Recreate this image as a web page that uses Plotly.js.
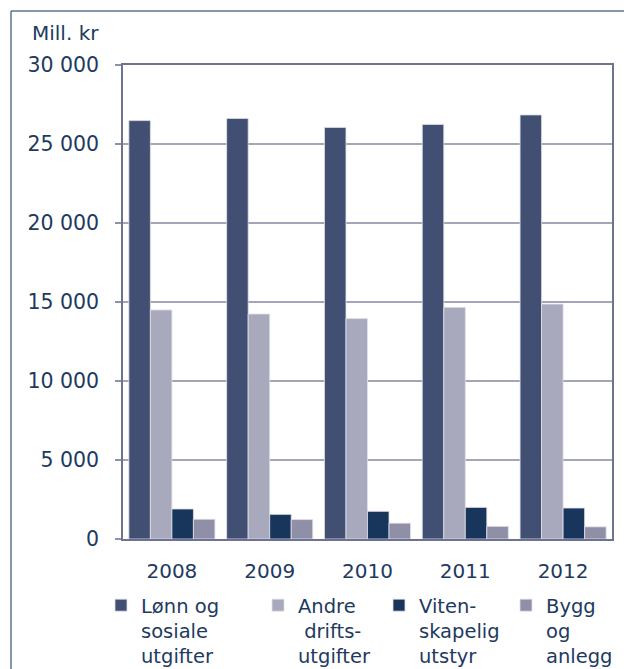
<!DOCTYPE html>
<html>
<head>
<meta charset="utf-8">
<script src="https://cdn.plot.ly/plotly-3.0.1.min.js"></script>
<style>
  html, body { margin: 0; padding: 0; background: #ffffff; }
  #chart { width: 624px; height: 669px; }
</style>
</head>
<body>
<div id="chart"></div>
<script>
const years = ['2008', '2009', '2010', '2011', '2012'];
const lonn = [26480, 26620, 26050, 26240, 26840];
const andre = [14500, 14240, 13950, 14660, 14870];
const viten = [1900, 1560, 1750, 2000, 1960];
const bygg = [1250, 1230, 1000, 800, 770];
const seriesNames = ['Lønn og<br>sosiale<br>utgifter', 'Andre<br> drifts-<br>utgifter', 'Viten-<br>skapelig<br>utstyr', 'Bygg<br>og<br>anlegg'];
const yTickVals = [0, 5000, 10000, 15000, 20000, 25000, 30000];
const yTickText = ['0', '5 000', '10 000', '15 000', '20 000', '25 000', '30 000'];

const colors = ['#414f72', '#a8a9bc', '#18365c', '#8f90a8'];
const textColor = '#1e3a5f';
const font = 'DejaVu Sans, Verdana, sans-serif';

const allSeries = [lonn, andre, viten, bygg];
const legendIds = ['legend', 'legend2', 'legend3', 'legend4'];

const traces = allSeries.map((vals, i) => ({
  type: 'bar',
  x: years,
  y: vals,
  name: seriesNames[i],
  legend: legendIds[i],
  marker: { color: colors[i], line: { color: '#dfe1ea', width: 0.8 } },
  hoverinfo: 'x+y'
}));

// plot area: x 123..612, y 65..539
const plotL = 123, plotR = 612, plotT = 65, plotB = 539;
const pw = plotR - plotL, ph = plotB - plotT;
const px = v => (v - plotL) / pw;
const py = v => (plotB - v) / ph;

const legendLefts = [101, 258, 379, 506];
const legendTop = 586;
const legendFont = { family: font, size: 19.5, color: textColor };
const mkLegend = (left) => ({
  orientation: 'v',
  x: px(left), xanchor: 'left',
  y: py(legendTop), yanchor: 'top',
  xref: 'paper', yref: 'paper',
  bgcolor: 'rgba(0,0,0,0)',
  borderwidth: 0,
  font: legendFont,
  valign: 'top',
  itemclick: false, itemdoubleclick: false
});

const layout = {
  width: 624,
  height: 669,
  margin: { l: plotL, r: 624 - plotR, t: plotT, b: 669 - plotB, autoexpand: false },
  paper_bgcolor: '#ffffff',
  plot_bgcolor: '#ffffff',
  font: { family: font, size: 20, color: textColor },
  barmode: 'group',
  bargap: 0.12,
  bargroupgap: 0,
  showlegend: true,
  legend: mkLegend(legendLefts[0]),
  legend2: mkLegend(legendLefts[1]),
  legend3: mkLegend(legendLefts[2]),
  legend4: mkLegend(legendLefts[3]),
  xaxis: {
    type: 'category',
    showgrid: false,
    showline: true,
    linecolor: '#6e7391',
    linewidth: 1.5,
    mirror: true,
    ticks: '',
    ticklabelstandoff: 13,
    tickfont: { family: font, size: 20, color: textColor },
    zeroline: false,
    fixedrange: true
  },
  yaxis: {
    range: [0, 30000],
    tickvals: yTickVals,
    ticktext: yTickText,
    showgrid: true,
    gridcolor: '#a3a6b8',
    gridwidth: 1.5,
    showline: true,
    linecolor: '#6e7391',
    linewidth: 1.5,
    mirror: true,
    ticks: 'outside',
    ticklen: 6,
    tickwidth: 1.5,
    tickcolor: '#8e92a8',
    ticklabelstandoff: 12,
    tickfont: { family: font, size: 20.5, color: textColor },
    zeroline: false,
    fixedrange: true
  },
  annotations: [{
    text: 'Mill. kr',
    xref: 'paper', yref: 'paper',
    x: px(101), y: py(33),
    xanchor: 'right', yanchor: 'middle',
    showarrow: false,
    font: { family: font, size: 20, color: textColor }
  }],
  shapes: [
    { type: 'line', xref: 'paper', yref: 'paper', x0: px(11), x1: px(630), y0: py(11), y1: py(11),
      line: { color: '#5f7390', width: 1.5 } },
    { type: 'line', xref: 'paper', yref: 'paper', x0: px(11), x1: px(11), y0: py(11), y1: py(680),
      line: { color: '#5f7390', width: 1.5 } }
  ]
};

Plotly.newPlot('chart', traces, layout, { displayModeBar: false, staticPlot: false });
</script>
</body>
</html>
